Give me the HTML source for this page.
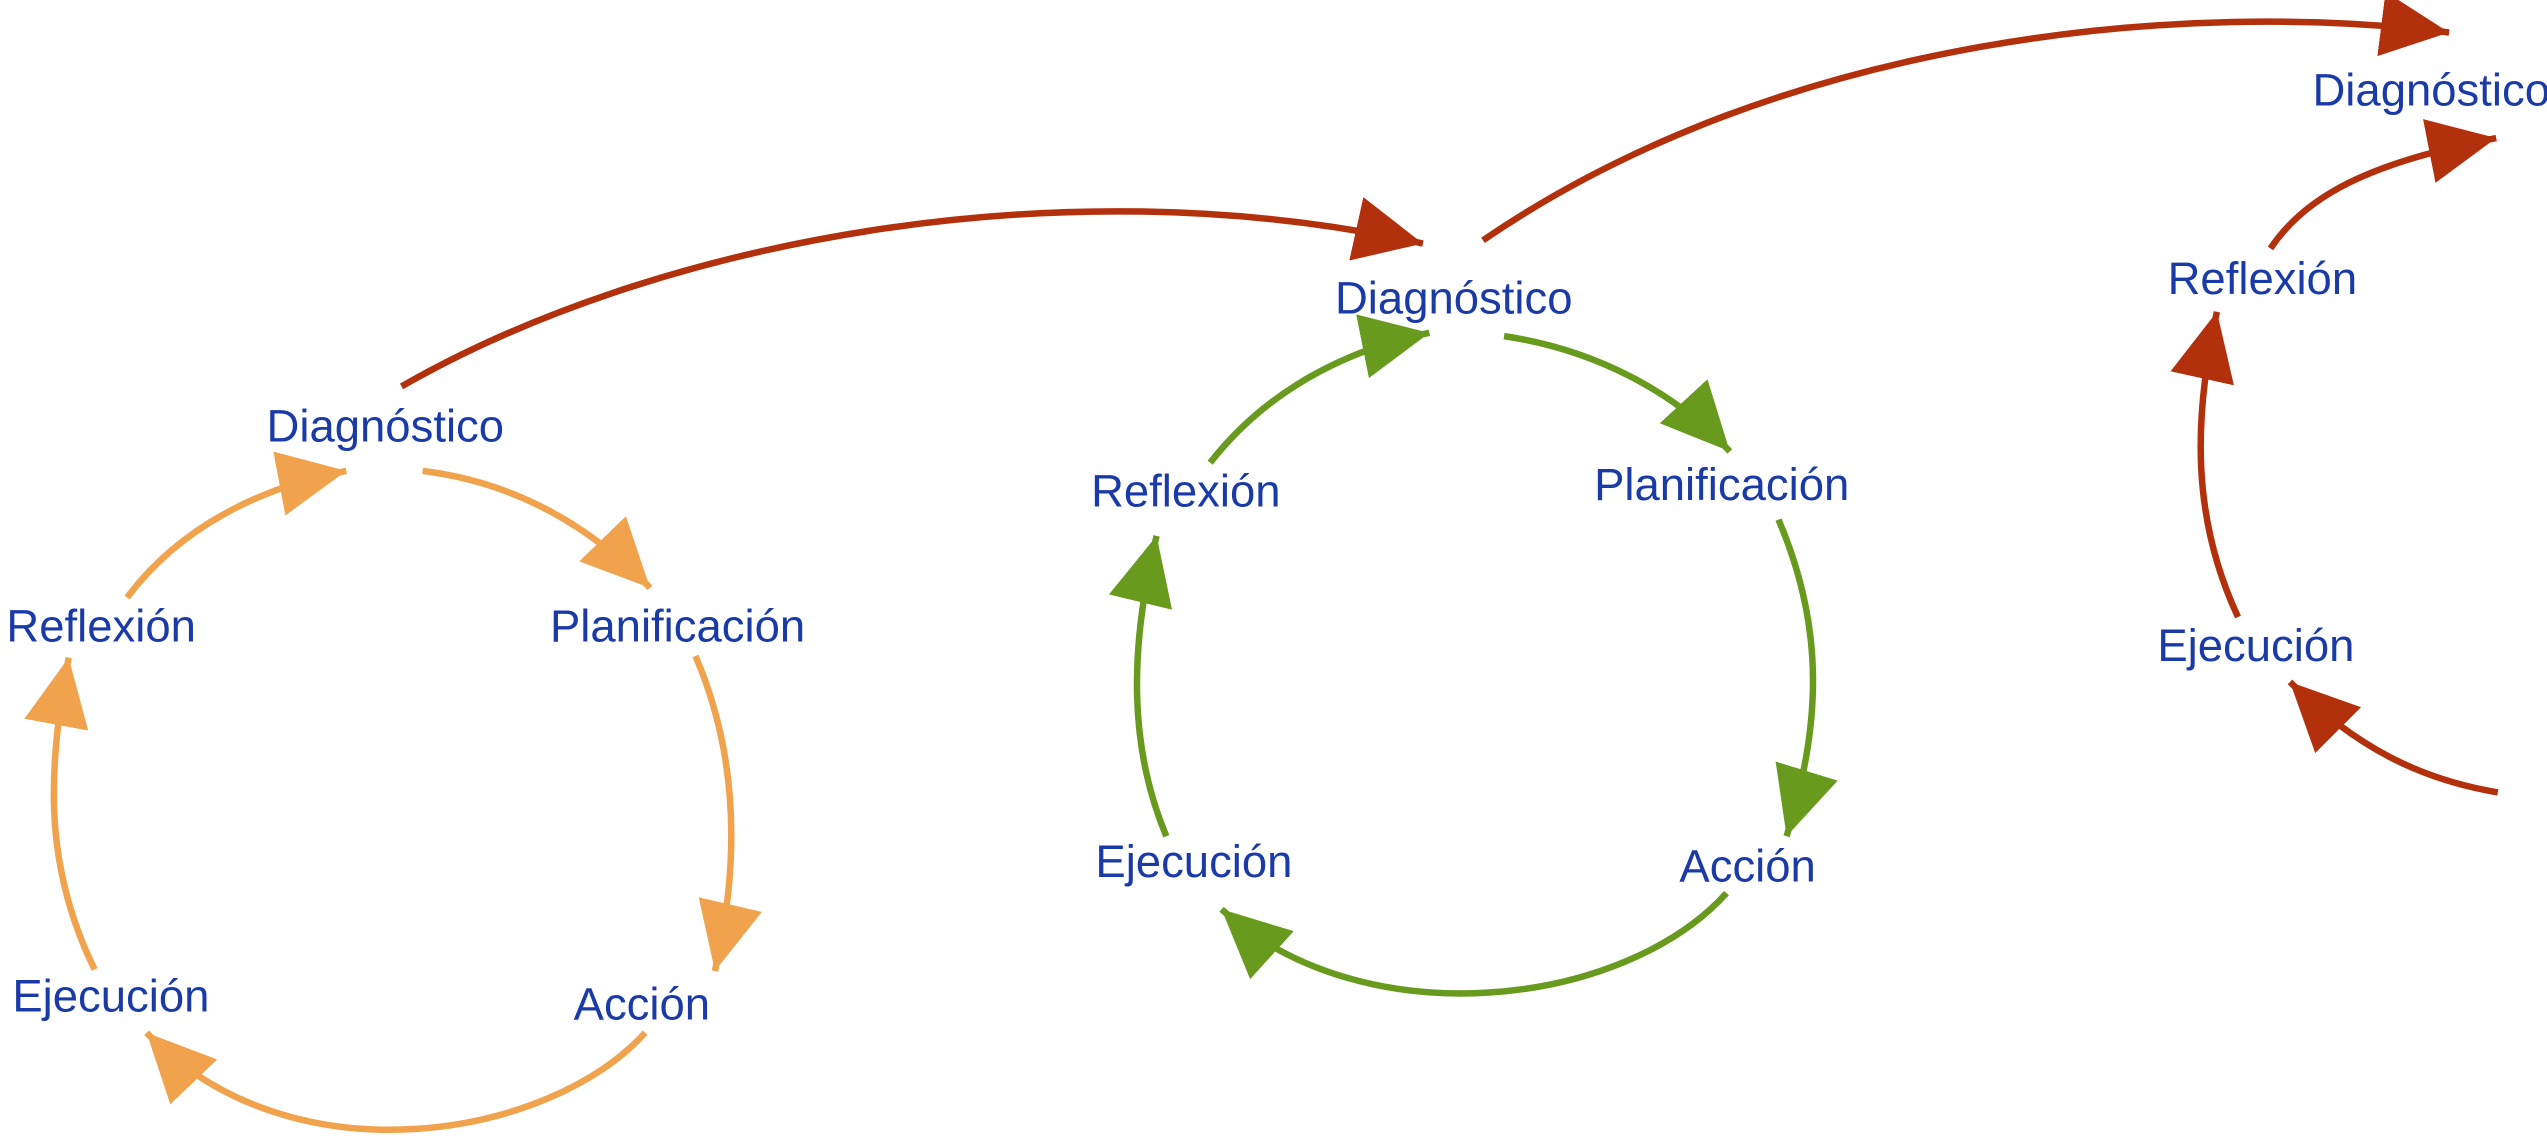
<!DOCTYPE html>
<html><head><meta charset="utf-8"><style>
html,body{margin:0;padding:0;background:#fff;width:2547px;height:1148px;overflow:hidden}
svg{display:block}
text{font-family:"Liberation Sans",Arial,sans-serif;font-size:28px;fill:#1a3aa8;text-anchor:middle}
</style></head><body>
<svg width="2547" height="1148" viewBox="0 0 1568 707" xmlns="http://www.w3.org/2000/svg">
<defs>
<marker id="mo" markerUnits="userSpaceOnUse" markerWidth="50" markerHeight="50" refX="42" refY="20" orient="auto"><path d="M0,0 L42,20 L0,40 z" fill="#f0a24c"/></marker>
<marker id="mg" markerUnits="userSpaceOnUse" markerWidth="50" markerHeight="50" refX="42" refY="20" orient="auto"><path d="M0,0 L42,20 L0,40 z" fill="#689a1e"/></marker>
<marker id="mr" markerUnits="userSpaceOnUse" markerWidth="50" markerHeight="50" refX="42" refY="20" orient="auto"><path d="M0,0 L42,20 L0,40 z" fill="#b3300c"/></marker>
</defs>
<g fill="none" stroke-width="4">
<g stroke="#f0a24c">
<path d="M260,290 Q340,300 400,362" marker-end="url(#mo)"/>
<path d="M428,404 Q465,490 440,598" marker-end="url(#mo)"/>
<path d="M397,636 C340,700 180,730 90,636" marker-end="url(#mo)"/>
<path d="M58,597 C25,530 30,470 42,405" marker-end="url(#mo)"/>
<path d="M78,368 C110,325 160,300 213,290" marker-end="url(#mo)"/>
</g>
<g stroke="#689a1e">
<path d="M926,207 C980,215 1030,240 1065,278" marker-end="url(#mg)"/>
<path d="M1095,320 C1125,390 1120,450 1100,515" marker-end="url(#mg)"/>
<path d="M1063,550 C1000,620 840,640 752,560" marker-end="url(#mg)"/>
<path d="M718,515 C695,460 695,400 712,330" marker-end="url(#mg)"/>
<path d="M745,285 C780,240 830,215 880,205" marker-end="url(#mg)"/>
</g>
<g stroke="#b3300c">
<path d="M247,238 C400,150 650,100 876,150" marker-end="url(#mr)"/>
<path d="M913,148 C1100,20 1350,0 1508,20" marker-end="url(#mr)"/>
<path d="M1398,153 C1420,120 1460,100 1537,85" marker-end="url(#mr)"/>
<path d="M1378,380 C1350,320 1350,260 1365,192" marker-end="url(#mr)"/>
<path d="M1538,488 C1490,480 1450,460 1410,420" marker-end="url(#mr)"/>
</g>
</g>
<text x="237" y="272">Diagnóstico</text>
<text x="417" y="395">Planificación</text>
<text x="395" y="628">Acción</text>
<text x="68" y="623">Ejecución</text>
<text x="62" y="395">Reflexión</text>
<text x="895" y="193">Diagnóstico</text>
<text x="1060" y="308">Planificación</text>
<text x="1076" y="543">Acción</text>
<text x="735" y="540">Ejecución</text>
<text x="730" y="312">Reflexión</text>
<text x="1497" y="65">Diagnóstico</text>
<text x="1393" y="181">Reflexión</text>
<text x="1389" y="407">Ejecución</text>
</svg>
</body></html>
